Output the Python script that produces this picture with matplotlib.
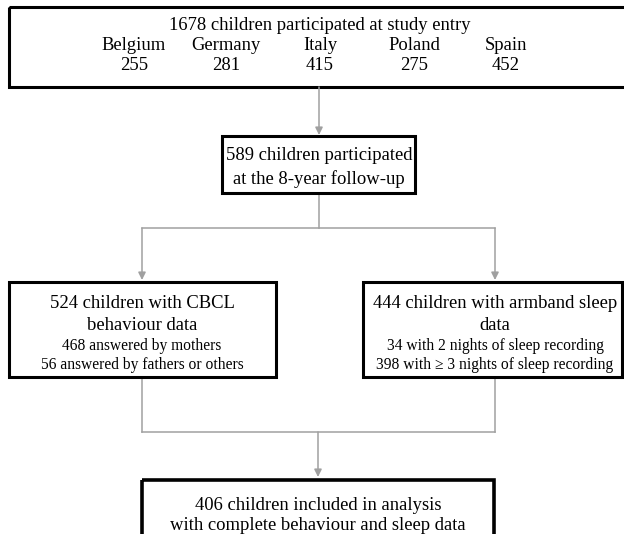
import matplotlib.pyplot as plt
from matplotlib.patches import Rectangle

plt.rcParams['font.family'] = ['Liberation Serif', 'DejaVu Serif']

# data
countries = ["Belgium", "Germany", "Italy", "Poland", "Spain"]
country_n = [255, 281, 415, 275, 452]
n_entry = 1678
n_followup = 589
n_cbcl = 524
n_cbcl_mother = 468
n_cbcl_other = 56
n_sleep = 444
n_sleep_2 = 34
n_sleep_3 = 398
n_final = 406

fig = plt.figure(figsize=(6.24, 5.34), dpi=100)
ax = fig.add_axes([0, 0, 1, 1])
ax.set_xlim(0, 624)
ax.set_ylim(534, 0)
ax.axis('off')

big = 13.4
small = 11.2
line_c = '#a0a0a0'


def box(x0, y0, x1, y1, lw=2.2):
    ax.add_patch(Rectangle((x0, y0), x1 - x0, y1 - y0, fill=False,
                           edgecolor='black', linewidth=lw, zorder=3))


def arrow(x, y0, y1):
    ax.annotate('', xy=(x, y1), xytext=(x, y0),
                arrowprops=dict(arrowstyle='-|>', color=line_c, lw=1.1,
                                mutation_scale=11, shrinkA=0, shrinkB=0))


def label(x, y, s, size=big):
    ax.text(x, y, s, ha='center', va='center_baseline', fontsize=size)


# top box
box(9, 7, 631, 87)
label(320, 24, f"{n_entry} children participated at study entry")
country_x = [134, 226, 320, 414, 506]
for cx, name, n in zip(country_x, countries, country_n):
    label(cx, 44, name)
    label(cx, 63, str(n))

arrow(319, 87, 135)

# follow-up box
box(222, 136, 415, 193)
label(319, 154, f"{n_followup} children participated")
label(319, 177, "at the 8-year follow-up")

# split
ax.plot([319, 319], [193, 228], color=line_c, lw=1.1)
ax.plot([142, 495], [228, 228], color=line_c, lw=1.1)
arrow(142, 228, 280)
arrow(495, 228, 280)

# left box
box(9, 282, 276, 377)
label(142, 301, f"{n_cbcl} children with CBCL")
label(142, 323, "behaviour data")
label(142, 344, f"{n_cbcl_mother} answered by mothers", small)
label(142, 363, f"{n_cbcl_other} answered by fathers or others", small)

# right box
box(363, 282, 622, 377)
label(495, 301, f"{n_sleep} children with armband sleep")
label(495, 323, "data")
label(495, 344, f"{n_sleep_2} with 2 nights of sleep recording", small)
label(495, 363, f"{n_sleep_3} with \u2265 3 nights of sleep recording", small)

# merge
ax.plot([142, 142], [377, 432], color=line_c, lw=1.1)
ax.plot([495, 495], [377, 432], color=line_c, lw=1.1)
ax.plot([142, 495], [432, 432], color=line_c, lw=1.1)
arrow(318, 432, 477)

# final box
box(142, 480, 494, 545, lw=2.6)
label(318, 503, f"{n_final} children included in analysis")
label(318, 523, "with complete behaviour and sleep data")

fig.savefig("out.png", dpi=100)
